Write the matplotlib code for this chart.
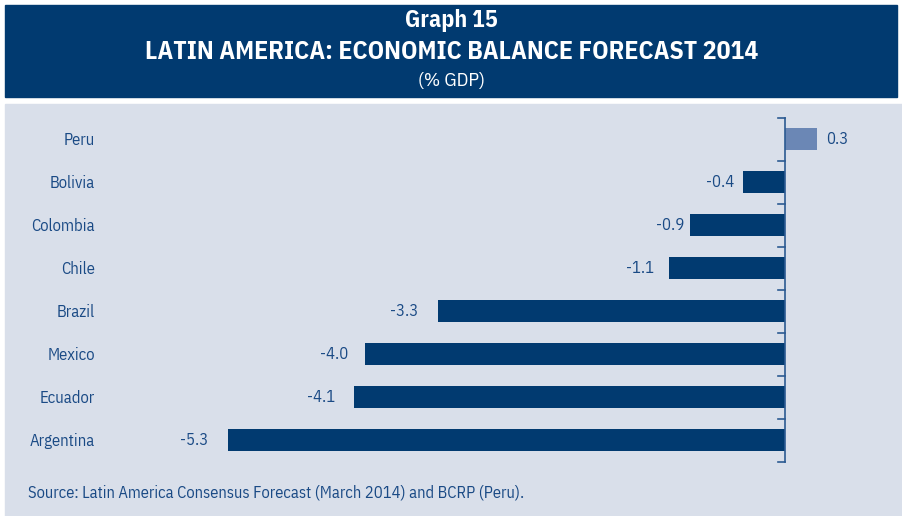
import matplotlib.pyplot as plt
from matplotlib.patches import Rectangle

countries = ["Peru", "Bolivia", "Colombia", "Chile", "Brazil", "Mexico", "Ecuador", "Argentina"]
balance = [0.3, -0.4, -0.9, -1.1, -3.3, -4.0, -4.1, -5.3]

navy = "#013A70"
light = "#6B87B5"
panel = "#D9DFEA"
txt = "#1A4A85"

plt.rcParams["font.family"] = ["IBM Plex Sans Condensed", "DejaVu Sans"]

W, H = 903, 516
fig = plt.figure(figsize=(W / 100, H / 100), dpi=100, facecolor="white")

# title band and light panel behind the chart
fig.add_artist(Rectangle((5 / W, 1 - 97 / H), 892 / W, 92 / H, transform=fig.transFigure,
                         color=navy, zorder=0))
fig.add_artist(Rectangle((5 / W, 0), 898 / W, 1 - 104 / H, transform=fig.transFigure,
                         color=panel, zorder=0))

fig.text(0.5, 1 - 21 / H, "Graph 15", ha="center", va="center", color="white",
         fontsize=17, fontweight="bold")
fig.text(0.5, 1 - 52 / H, "LATIN AMERICA: ECONOMIC BALANCE FORECAST 2014", ha="center",
         va="center", color="white", fontsize=18.5, fontweight="bold")
fig.text(0.5, 1 - 81 / H, "(% GDP)", ha="center", va="center", color="white", fontsize=14)

# axes placed so that zero sits near x=785 px
ax_l, ax_r, ax_t, ax_b = 110, 890, 104, 478
ax = fig.add_axes([ax_l / W, 1 - ax_b / H, (ax_r - ax_l) / W, (ax_b - ax_t) / H])
ax.set_facecolor("none")
ppu = 105.1
ax.set_xlim((ax_l - 785) / ppu, (ax_r - 785) / ppu)
ax.set_ylim(7 + (ax_b - 440) / 43, -(139 - ax_t) / 43)

ypos = list(range(len(countries)))
colors = [light if v > 0 else navy for v in balance]
ax.barh(ypos, balance, height=0.5, color=colors, zorder=2)

# gap (pt) between each bar end and its value label
gaps = [7, 6, 4, 11, 14, 12, 14, 14]
for y, v, name, g in zip(ypos, balance, countries, gaps):
    if v >= 0:
        ax.annotate(f"{v:.1f}", (v, y), xytext=(g, 0), textcoords="offset points",
                    ha="left", va="center", color=txt, fontsize=12)
    else:
        ax.annotate(f"{v:.1f}", (v, y), xytext=(-g, 0), textcoords="offset points",
                    ha="right", va="center", color=txt, fontsize=12)
    ax.text((95 - ax_l) / (ax_r - ax_l), y + 0.03, name, transform=ax.get_yaxis_transform(),
            ha="right", va="center", color=txt, fontsize=12)

# vertical axis at zero with boundary ticks
ax.plot([0, 0], [-0.5, len(countries) - 0.5], color="#2C5A92", lw=1.2, zorder=3)
for b in range(len(countries) + 1):
    ax.plot([-7 / ppu, 0], [b - 0.5, b - 0.5], color="#2C5A92", lw=1.2, zorder=3)

for s in ax.spines.values():
    s.set_visible(False)
ax.set_xticks([])
ax.set_yticks([])

fig.text(28 / W, 1 - 493 / H, "Source: Latin America Consensus Forecast (March 2014) and BCRP (Peru).",
         ha="left", va="center", color=txt, fontsize=11.9)

fig.savefig("out.png", dpi=100, facecolor=fig.get_facecolor())
